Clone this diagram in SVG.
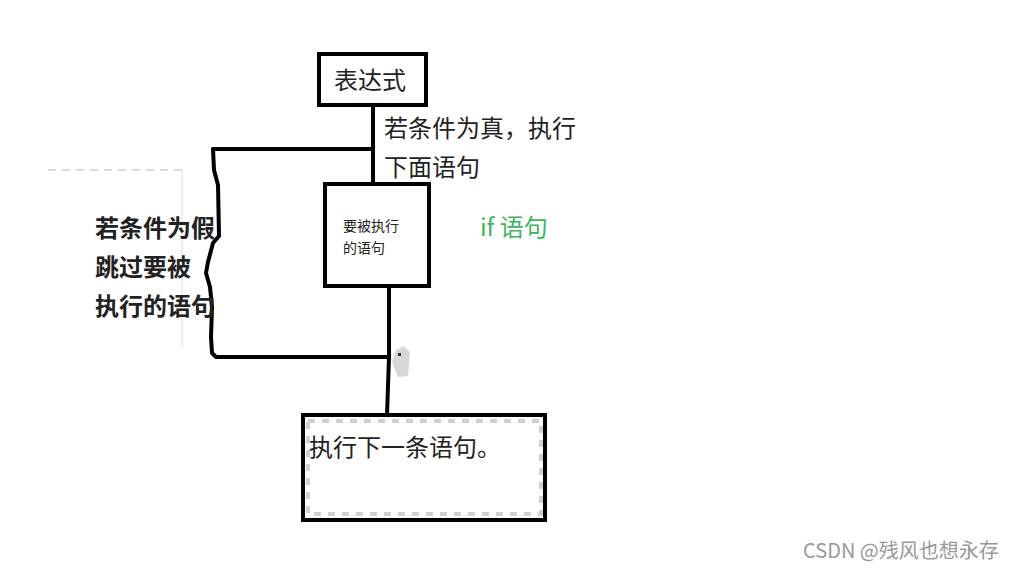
<svg xmlns="http://www.w3.org/2000/svg" width="1011" height="571" viewBox="0 0 1011 571">
<defs>
<style>
.box{fill:#fff;stroke:#000;stroke-width:4}
.ln{fill:none;stroke:#000;stroke-width:4;stroke-linejoin:round;stroke-linecap:round}
.t{font-family:"Noto Sans CJK SC","Noto Sans",sans-serif;fill:#222}
.chk{fill:none;stroke:#d0d0d0;stroke-width:4;stroke-dasharray:7 7}
</style>
</defs>
<rect width="1011" height="571" fill="#fff"/>
<g id="faint">
<line x1="48" y1="170" x2="182" y2="170" stroke="#ddd" stroke-width="2" stroke-dasharray="8 6"/>
<line x1="182" y1="170" x2="182" y2="347" stroke="#ddd" stroke-width="1"/>
<path d="M396 350 L404 346 L410 352 L408 376 L398 377 L392 362 Z" fill="#d8d8d8"/>
<rect x="398" y="353" width="3" height="3" fill="#333"/>
</g>
<g id="connectors">
<line class="ln" x1="373" y1="107" x2="373" y2="183"/>
<line class="ln" x1="373" y1="149" x2="213" y2="149"/>
<path class="ln" d="M213 149 L214 170 L218 185 L219 236 L213 243 L208 262 L206 273 L210 287 L212 307 L211 337 L212 353 L216 357 L389 357"/>
<line class="ln" x1="389" y1="288" x2="389" y2="357"/>
<line class="ln" x1="389" y1="357" x2="387" y2="415"/>
</g>
<g id="n-expr">
<rect class="box" x="319" y="54" width="107" height="51"/>
<text class="t" x="334" y="89" font-size="24">表达式</text>
</g>
<g id="lbl-true">
<text class="t" x="384" y="137" font-size="24">若条件为真，执行</text>
<text class="t" x="384" y="176" font-size="24">下面语句</text>
</g>
<g id="n-stmt">
<rect class="box" x="325" y="184" width="104" height="102"/>
<text class="t" x="343" y="231" font-size="14" fill="#333">要被执行</text>
<text class="t" x="343" y="253" font-size="14" fill="#333">的语句</text>
</g>
<g id="lbl-if">
<text x="480" y="236" font-size="24" font-family="'Noto Sans CJK SC','Noto Sans',sans-serif" fill="#3cb55c">if 语句</text>
</g>
<g id="lbl-false">
<text class="t" x="95" y="237" font-size="24" font-weight="bold">若条件为假</text>
<text class="t" x="95" y="276" font-size="24" font-weight="bold">跳过要被</text>
<text class="t" x="95" y="315" font-size="24" font-weight="bold">执行的语句</text>
</g>
<g id="n-next">
<rect class="box" x="303" y="415" width="242" height="105"/>
<rect class="chk" x="308" y="421" width="233" height="93"/>
<text class="t" x="309" y="456" font-size="24">执行下一条语句。</text>
</g>
<g id="watermark">
<text x="803" y="558" font-size="20" font-family="'Noto Sans CJK SC','Noto Sans',sans-serif" fill="#999">CSDN @残风也想永存</text>
</g>
</svg>
